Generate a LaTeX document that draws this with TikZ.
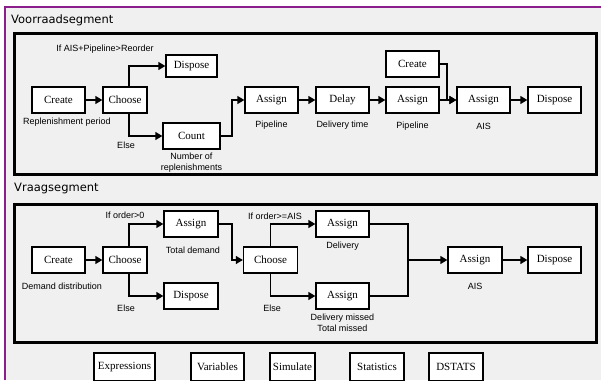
\documentclass[tikz,border=0pt]{standalone}
\usepackage{fontspec}
\setmainfont{Liberation Serif}
\newfontfamily\lblfont{Liberation Sans}
\newfontfamily\ttlfont{DejaVu Sans}
\usetikzlibrary{arrows.meta}
\definecolor{panelgray}{RGB}{240,240,240}
\definecolor{framepurple}{RGB}{140,30,140}

\begin{document}
\begin{tikzpicture}[x=1pt, y=-1pt,
  blok/.style={draw, fill=white, line width=1.3pt, inner sep=0pt,
    minimum width=53pt, minimum height=26pt, font=\rmfamily\fontsize{11}{12}\selectfont},
  lbl/.style={font=\lblfont\fontsize{9}{11}\selectfont, inner sep=0pt, align=center},
  ttl/.style={font=\ttlfont\fontsize{11.5}{13}\selectfont, inner sep=0pt, anchor=west},
  paneel/.style={draw, line width=3pt},
  pijl/.style={line width=1.3pt, -{Triangle[length=7pt,width=8pt]}},
  lijn/.style={line width=1.3pt}]
\useasboundingbox (0,0) rectangle (601,380);
\clip (0,0) rectangle (601,380);
\fill[white] (0,0) rectangle (601,380);
\fill[panelgray] (5,7) rectangle (601,380);
\draw[framepurple, line width=2pt] (5,380) -- (5,7) -- (601,7);

% voorraadsegment
\node[ttl] (t1) at (11,20) {Voorraadsegment};
\draw[paneel] (14.5,33.5) rectangle (596.5,174.5);
\node[blok] (cr1) at (58.5,100) {Create};
\node[blok, minimum width=44pt] (ch1) at (125,100) {Choose};
\node[blok, minimum width=51pt, minimum height=22pt] (dp1) at (191.5,66) {Dispose};
\node[blok, minimum width=57pt] (cnt) at (191.5,136) {Count};
\node[blok] (as1) at (271.5,100) {Assign};
\node[blok] (dl) at (342.5,100) {Delay};
\node[blok] (as2) at (412.5,100) {Assign};
\node[blok] (cr2) at (412.5,64) {Create};
\node[blok] (as3) at (483.5,100) {Assign};
\node[blok] (dp2) at (554.5,100) {Dispose};
\node[lbl] (l1) at (105,49) {If AIS+Pipeline>Reorder};
\node[lbl] (l2) at (67,122) {Replenishment period};
\node[lbl] (l3) at (126,145) {Else};
\node[lbl] (l4) at (191.5,162.5) {Number of\\replenishments};
\node[lbl] (l5) at (271.5,125) {Pipeline};
\node[lbl] (l6) at (342.5,125) {Delivery time};
\node[lbl] (l7) at (412.5,126) {Pipeline};
\node[lbl] (l8) at (483.5,126) {AIS};
\draw[pijl] (cr1) -- (ch1);
\draw[pijl] ([xshift=4]ch1.north) |- (dp1.west);
\draw[pijl] ([xshift=4]ch1.south) |- (cnt.west);
\draw[pijl] (cnt.east) -| (232,100) -- (as1.west);
\draw[pijl] (as1) -- (dl);
\draw[pijl] (dl) -- (as2);
\draw[pijl] (as2) -- (as3);
\draw[pijl] (cr2.east) -| (447,100) -- (as3.west);
\draw[pijl] (as3) -- (dp2);

% vraagsegment
\node[ttl] (t2) at (14,188) {Vraagsegment};
\draw[paneel] (14.5,204.5) rectangle (596.5,342.5);
\node[blok] (cr3) at (58.5,260) {Create};
\node[blok, minimum width=44pt] (ch2) at (125,260) {Choose};
\node[blok, minimum width=54pt] (as4) at (191,224) {Assign};
\node[blok, minimum width=54pt] (dp3) at (191,296) {Dispose};
\node[blok, minimum width=54pt] (ch3) at (270.5,260) {Choose};
\node[blok] (as5) at (342.5,224) {Assign};
\node[blok] (as6) at (342.5,296) {Assign};
\node[blok, minimum width=54pt] (as7) at (475,260) {Assign};
\node[blok] (dp4) at (554.5,260) {Dispose};
\node[lbl] (l9) at (125,215) {If order>0};
\node[lbl] (l10) at (193,250) {Total demand};
\node[lbl] (l11) at (62,286) {Demand distribution};
\node[lbl] (l12) at (126,308) {Else};
\node[lbl] (l13) at (275,216) {If order>=AIS};
\node[lbl] (l14) at (272,308) {Else};
\node[lbl] (l15) at (342.5,246) {Delivery};
\node[lbl] (l16) at (342.5,323) {Delivery missed\\Total missed};
\node[lbl] (l17) at (475,286) {AIS};
\coordinate (samen) at (408,260);
\draw[pijl] (cr3) -- (ch2);
\draw[pijl] ([xshift=4]ch2.north) |- (as4.west);
\draw[pijl] ([xshift=4]ch2.south) |- (dp3.west);
\draw[pijl] (as4.east) -| (232,260) -- (ch3.west);
\draw[pijl] (ch3.north) |- (as5.west);
\draw[pijl] (ch3.south) |- (as6.west);
\draw[lijn] (as5.east) -| (samen);
\draw[lijn] (as6.east) -| (samen);
\draw[pijl] (samen) -- (as7.west);
\draw[pijl] (as7) -- (dp4);

% knoppen
\node[blok, minimum width=61pt, minimum height=28pt] (k1) at (124.5,367) {Expressions};
\node[blok, minimum height=28pt] (k2) at (217.5,367) {Variables};
\node[blok, minimum width=45pt, minimum height=28pt] (k3) at (292.5,367) {Simulate};
\node[blok, minimum width=54pt, minimum height=28pt] (k4) at (377,367) {Statistics};
\node[blok, minimum width=54pt, minimum height=28pt] (k5) at (456,367) {DSTATS};
\end{tikzpicture}
\end{document}
